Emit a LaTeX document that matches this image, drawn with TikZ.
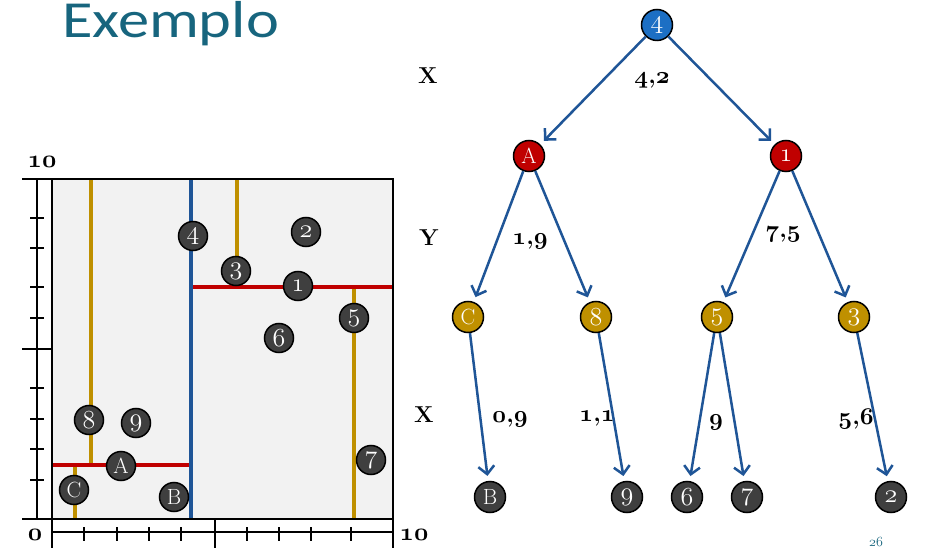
\RequirePackage{fix-cm}
\documentclass[tikz,border=0pt]{standalone}
\usepackage{fontspec}
\newfontfamily\titlefont{Carlito}
\usetikzlibrary{arrows.meta}
\definecolor{titleteal}{HTML}{17657E}
\definecolor{rootblue}{HTML}{1C6FC4}
\definecolor{nodered}{HTML}{C00000}
\definecolor{nodegold}{HTML}{BF9000}
\definecolor{nodegray}{HTML}{3F3F3F}
\definecolor{arrowblue}{HTML}{1F5597}
\definecolor{plotbg}{HTML}{F2F2F2}
\newcommand\osfb[1]{{\fontencoding{OML}\fontfamily{cmm}\fontseries{b}\fontshape{it}\selectfont #1}}
\newcommand\osfm[1]{{\fontencoding{OML}\fontfamily{cmm}\fontseries{m}\fontshape{it}\selectfont #1}}
\newcommand\cd[1]{{\fontsize{26}{26}\selectfont\osfm{#1}}}
\newcommand\pair[2]{\osfb{#1},\osfb{#2}}
\tikzset{
  pt/.style={circle, draw=black, line width=1.5pt, fill=nodegray, text=white,
     minimum size=29pt, inner sep=0pt, font=\fontsize{22}{22}\selectfont},
  tn/.style={pt, minimum size=31pt},
  troot/.style={tn, fill=rootblue},
  tred/.style={tn, fill=nodered},
  tgold/.style={tn, fill=nodegold},
  arr/.style={draw=arrowblue, line width=2.5pt, shorten >=5pt,
     -{Straight Barb[length=8pt,width=16pt]}},
  lbl/.style={font=\fontsize{24}{24}\selectfont\bfseries, inner sep=0pt},
  xylbl/.style={font=\fontsize{23}{23}\selectfont\bfseries, inner sep=0pt},
  axlbl/.style={font=\fontsize{25}{25}\selectfont\bfseries, inner sep=0pt},
  axisline/.style={line width=2pt, black},
  goldline/.style={line width=4pt, nodegold},
  redline/.style={line width=4pt, nodered},
  blueline/.style={line width=4pt, arrowblue},
}
\begin{document}
\begin{tikzpicture}[x=1pt,y=-1pt]
\useasboundingbox[fill=white] (0,0) rectangle (934,553);
% title
\node[anchor=base west, inner sep=0pt, text=titleteal,
      font=\titlefont\fontsize{52}{52}\selectfont] (title) at (62,38) {\scalebox{1.2}[1]{Exemplo}};
% plot area
\fill[plotbg] (52,179) rectangle (393,519);
\draw[goldline] (91,179) -- (91,465);
\draw[goldline] (237,179) -- (237,262);
\draw[goldline] (354,287) -- (354,519);
\draw[goldline] (75,465) -- (75,519);
\draw[redline] (191,287) -- (393,287);
\draw[redline] (52,465) -- (191,465);
\draw[blueline] (191,179) -- (191,519);
\draw[axisline] (52,179) rectangle (393,519);
\draw[axisline] (37,179) -- (37,519);
\foreach \y in {179,349,519} \draw[axisline] (22,\y) -- (52,\y);
\foreach \y in {218,248,287,318,388,419,449,480} \draw[axisline] (30,\y) -- (44,\y);
\draw[axisline] (52,532) -- (393,532);
\foreach \x in {52,215,393} \draw[axisline] (\x,519) -- (\x,548);
\foreach \x in {84,117,149,181,247,279,311,351} \draw[axisline] (\x,527) -- (\x,541);
\node[axlbl] (ytop) at (42,162) {\osfb{10}};
\node[axlbl] (xzero) at (35,535) {\osfb{0}};
\node[axlbl] (xten) at (414,535) {\osfb{10}};
% points
\node[pt] (p4) at (193,236) {\cd{4}};
\node[pt] (p2) at (306,232) {\cd{2}};
\node[pt] (p3) at (236,271) {\cd{3}};
\node[pt] (p1) at (298,286) {\cd{1}};
\node[pt] (p5) at (354,318) {\cd{5}};
\node[pt] (p6) at (279,338) {\cd{6}};
\node[pt] (p8) at (89,420) {\cd{8}};
\node[pt] (p9) at (136,423) {\cd{9}};
\node[pt] (pA) at (121,466) {A};
\node[pt] (pC) at (74,490) {C};
\node[pt] (pB) at (174,497) {B};
\node[pt] (p7) at (371,460) {\cd{7}};
% tree
\node[troot] (t4) at (657,25) {\cd{4}};
\node[tred] (tA) at (529,156) {A};
\node[tred] (t1) at (786,156) {\cd{1}};
\node[tgold] (tC) at (468,317) {C};
\node[tgold] (t8) at (596,317) {\cd{8}};
\node[tgold] (t5) at (717,317) {\cd{5}};
\node[tgold] (t3) at (854,317) {\cd{3}};
\node[tn] (tB) at (490,497) {B};
\node[tn] (t9) at (627,497) {\cd{9}};
\node[tn] (t6) at (687,497) {\cd{6}};
\node[tn] (t7) at (747,497) {\cd{7}};
\node[tn] (t2) at (891,497) {\cd{2}};
\draw[arr] (t4) -- (tA);
\draw[arr] (t4) -- (t1);
\draw[arr] (tA) -- (tC);
\draw[arr] (tA) -- (t8);
\draw[arr] (t1) -- (t5);
\draw[arr] (t1) -- (t3);
\draw[arr] (tC) -- (tB);
\draw[arr] (t8) -- (t9);
\draw[arr] (t5.-100) -- (t6);
\draw[arr] (t5.-80) -- (t7);
\draw[arr] (t3) -- (t2);
% labels
\node[xylbl] (l1) at (428,76) {X};
\node[lbl] (l2) at (652,81) {\pair{4}{2}};
\node[xylbl] (l3) at (429,238) {Y};
\node[lbl] (l4) at (530,242) {\pair{1}{9}};
\node[lbl] (l5) at (783,235) {\pair{7}{5}};
\node[xylbl] (l6) at (424,415) {X};
\node[lbl] (l7) at (510,419) {\pair{0}{9}};
\node[lbl] (l8) at (597,418) {\pair{1}{1}};
\node[lbl] (l9) at (716,422) {\osfb{9}};
\node[lbl] (l10) at (856,419) {\pair{5}{6}};
\node[inner sep=0pt, text=titleteal, font=\fontsize{14}{14}\selectfont] (pg) at (876,542) {\osfm{26}};
\end{tikzpicture}
\end{document}
